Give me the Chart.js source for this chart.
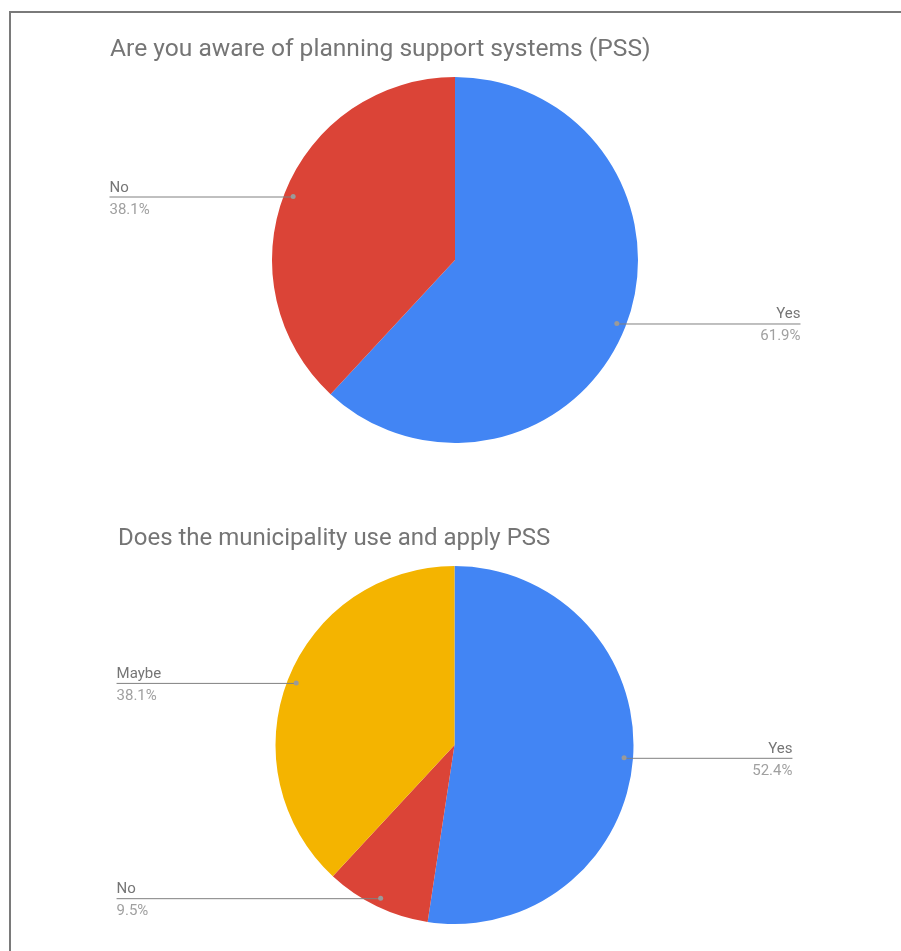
<!DOCTYPE html>
<html>
<head>
<meta charset="utf-8">
<script src="https://cdn.jsdelivr.net/npm/chart.js@4"></script>
<style>
  body { margin: 0; background: #fff; }
  .frame { position: absolute; left: 9px; top: 11px; width: 900px; height: 950px;
           border-left: 2px solid #7a7a7a; border-top: 2px solid #7a7a7a; }
  .box { position: absolute; left: 0; width: 901px; }
</style>
</head>
<body>
<div class="frame"></div>
<div class="box" style="top:0;height:487px"><canvas id="awareChart"></canvas></div>
<div class="box" style="top:487px;height:464px"><canvas id="useChart"></canvas></div>
<script>
const awareLabels = ["Yes", "No"];
const awareValues = [61.9, 38.1];
const awareColors = ["#4285f4", "#db4437"];

const useLabels = ["Yes", "No", "Maybe"];
const useValues = [52.4, 9.5, 38.1];
const useColors = ["#4285f4", "#db4437", "#f4b400"];

// leader lines + "name / percent" labels, google-charts style
const pieLabels = {
  id: "pieLabels",
  afterDraw(chart, args, opts) {
    const ctx = chart.ctx;
    const meta = chart.getDatasetMeta(0);
    const values = chart.data.datasets[0].data;
    const total = values.reduce((a, b) => a + b, 0);

    ctx.save();
    // title
    ctx.font = opts.titleSize + "px Roboto";
    ctx.fillStyle = "#757575";
    ctx.textAlign = "left";
    ctx.textBaseline = "alphabetic";
    ctx.fillText(opts.title, opts.titleX, opts.titleY);

    meta.data.forEach((arc, i) => {
      const p = arc.getProps(["x", "y", "startAngle", "endAngle", "outerRadius"], true);
      const mid = (p.startAngle + p.endAngle) / 2;
      const dx = p.x + Math.cos(mid) * p.outerRadius * 0.95;
      const dy = p.y + Math.sin(mid) * p.outerRadius * 0.95;
      const left = Math.cos(mid) < 0;
      const lx = left ? p.x - p.outerRadius * 1.888 : p.x + p.outerRadius * 1.888;

      ctx.strokeStyle = "#808080";
      ctx.lineWidth = 1;
      ctx.beginPath();
      ctx.moveTo(dx, dy + 0.5);
      ctx.lineTo(lx, dy + 0.5);
      ctx.stroke();

      ctx.fillStyle = "#9a9a9a";
      ctx.beginPath();
      ctx.arc(dx, dy, 2.5, 0, Math.PI * 2);
      ctx.fill();

      ctx.textAlign = left ? "left" : "right";
      ctx.font = "15px Roboto";
      ctx.fillStyle = "#757575";
      ctx.fillText(chart.data.labels[i], lx, dy - 5);
      ctx.fillStyle = "#a0a0a0";
      ctx.fillText((values[i] / total * 100).toFixed(1) + "%", lx, dy + 17);
    });
    ctx.restore();
  }
};

function pieChart(id, labels, values, colors, width, height, cx, cy, r, titleOpts) {
  return new Chart(document.getElementById(id), {
    type: "pie",
    data: {
      labels: labels,
      datasets: [{
        data: values,
        backgroundColor: colors,
        borderColor: "#ffffff",
        borderWidth: 0,
        hoverOffset: 0,
      }],
    },
    options: {
      responsive: true,
      maintainAspectRatio: false,
      animation: false,
      layout: {
        padding: { left: cx - r, right: width - cx - r, top: cy - r, bottom: height - cy - r },
      },
      plugins: {
        legend: { display: false },
        tooltip: { enabled: false },
        pieLabels: titleOpts,
      },
    },
    plugins: [pieLabels],
  });
}

pieChart("awareChart", awareLabels, awareValues, awareColors, 901, 487, 455, 260, 183,
  { title: "Are you aware of planning support systems (PSS)", titleX: 110, titleY: 56, titleSize: 24.6 });
pieChart("useChart", useLabels, useValues, useColors, 901, 464, 454.5, 258, 179,
  { title: "Does the municipality use and apply PSS", titleX: 118, titleY: 58, titleSize: 24 });
</script>
</body>
</html>
